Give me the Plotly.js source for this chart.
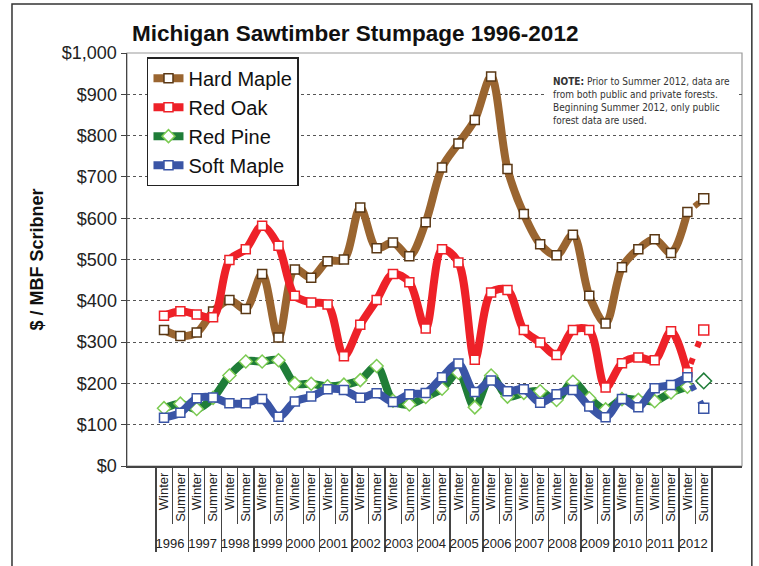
<!DOCTYPE html>
<html>
<head>
<meta charset="utf-8">
<script src="https://cdn.plot.ly/plotly-3.0.1.min.js"></script>
<style>
  html, body { margin: 0; padding: 0; background: #ffffff; }
  #chart { width: 759px; height: 566px; }
</style>
</head>
<body>
<div id="chart"></div>
<script>
// Category labels (outer: year, inner: season)
const yearLabels = ['1996','1996','1997','1997','1998','1998','1999','1999','2000','2000',
  '2001','2001','2002','2002','2003','2003','2004','2004','2005','2005','2006','2006',
  '2007','2007','2008','2008','2009','2009','2010','2010','2011','2011','2012','2012'];
const seasonLabels = ['Winter','Summer','Winter','Summer','Winter','Summer','Winter','Summer',
  'Winter','Summer','Winter','Summer','Winter','Summer','Winter','Summer','Winter','Summer',
  'Winter','Summer','Winter','Summer','Winter','Summer','Winter','Summer','Winter','Summer',
  'Winter','Summer','Winter','Summer','Winter','Summer'];

// Stumpage prices, $ / MBF Scribner (Winter 1996 ... Summer 2012)
const hardMaple = [329,315,323,374,402,380,465,311,476,456,496,500,626,527,541,508,590,723,
  781,838,943,719,610,537,510,560,412,345,481,525,549,516,615,647];
const redOak = [364,375,367,360,499,525,582,533,412,396,391,266,342,402,465,445,333,525,
  493,257,420,426,329,299,269,329,329,190,249,263,256,326,227,329];
const redPine = [140,151,138,165,219,253,253,256,200,199,193,197,208,242,158,149,167,187,
  226,142,219,168,177,181,160,204,164,137,162,160,157,178,192,206];
const softMaple = [117,129,164,166,152,152,162,119,156,168,186,184,165,176,155,174,177,215,
  248,179,207,181,186,153,174,184,144,118,162,142,188,196,215,140];

const seriesNames = ['Hard Maple','Red Oak','Red Pine','Soft Maple'];
const seriesValues = [hardMaple, redOak, redPine, softMaple];
const lineColors = ['#9A6530','#EE2128','#1F7D38','#3A55A6'];
const markerLines = ['#5A3815','#EE2128','#7CCB52','#3A55A6'];
const markerSymbols = ['square','square','diamond','square'];
const showConnector = [true, true, false, true];

const n = yearLabels.length;
const lastIdx = n - 1;
const traces = [];
seriesNames.forEach((name, k) => {
  const vals = seriesValues[k];
  // main smoothed line: Winter 1996 .. Winter 2012
  traces.push({
    type: 'scatter', mode: 'lines+markers', name: name,
    x: [yearLabels.slice(0, lastIdx), seasonLabels.slice(0, lastIdx)],
    y: vals.slice(0, lastIdx),
    line: { color: lineColors[k], width: 8, shape: 'spline', smoothing: 0.9 },
    marker: { symbol: markerSymbols[k], size: markerSymbols[k] === 'diamond' ? 10 : 9,
      color: '#ffffff', line: { color: markerLines[k], width: 1.5 } },
    cliponaxis: false
  });
  // dotted connector Winter 2012 -> Summer 2012
  if (showConnector[k]) {
    traces.push({
      type: 'scatter', mode: 'lines', showlegend: false, hoverinfo: 'skip',
      x: [yearLabels.slice(lastIdx - 1), seasonLabels.slice(lastIdx - 1)],
      y: vals.slice(lastIdx - 1),
      line: { color: lineColors[k], width: 6, dash: '0px,9px,6px,3px' }
    });
  }
  // Summer 2012 (public forests only) point
  traces.push({
    type: 'scatter', mode: 'markers', showlegend: false,
    x: [yearLabels.slice(lastIdx), seasonLabels.slice(lastIdx)],
    y: vals.slice(lastIdx),
    marker: { symbol: markerSymbols[k], size: markerSymbols[k] === 'diamond' ? 12 : 10,
      color: '#ffffff', line: { color: k === 0 ? markerLines[k] : lineColors[k], width: 1.5 } },
    cliponaxis: false
  });
});

const layout = {
  width: 759, height: 566,
  margin: { l: 127, r: 17, t: 53, b: 100 },
  paper_bgcolor: '#ffffff', plot_bgcolor: '#ffffff',
  font: { family: 'Liberation Sans, Arial, sans-serif', color: '#222' },
  title: {
    text: '<b>Michigan Sawtimber Stumpage 1996-2012</b>',
    font: { size: 22.5, color: '#111', family: 'Liberation Sans, Arial, sans-serif' },
    x: 0.468, xanchor: 'center', y: 0.942, yanchor: 'middle'
  },
  xaxis: {
    type: 'multicategory',
    tickangle: -90,
    tickfont: { size: 13, color: '#222' },
    showline: true, linecolor: '#444', linewidth: 1.5,
    ticks: 'outside', ticklen: 56, tickcolor: '#444', tickwidth: 1,
    showdividers: true, dividercolor: '#444', dividerwidth: 1.5,
    showgrid: false, zeroline: false, automargin: false
  },
  yaxis: {
    range: [0, 1000], dtick: 100, tickprefix: '$', tickformat: ',d',
    tickfont: { size: 18, color: '#222' },
    showline: true, linecolor: '#444', linewidth: 1.5,
    ticks: 'outside', ticklen: 5, tickcolor: '#444',
    showgrid: true, gridcolor: '#555', gridwidth: 1, griddash: 'dot',
    zeroline: false, automargin: false,
    title: { text: '<b>$ / MBF Scribner</b>', font: { size: 18, color: '#111' }, standoff: 13 }
  },
  legend: {
    x: 0.0325, y: 0.99, xanchor: 'left', yanchor: 'top',
    bgcolor: '#ffffff', bordercolor: '#222', borderwidth: 1.5,
    font: { size: 20, color: '#111' }
  },
  annotations: [{
    xref: 'paper', yref: 'paper', x: 0.837, y: 0.884, xanchor: 'center', yanchor: 'middle',
    align: 'left', showarrow: false, bgcolor: '#ffffff', borderpad: 8,
    font: { size: 10, color: '#333', family: 'Liberation Sans Narrow, DejaVu Sans Condensed, sans-serif' },
    text: '<b>NOTE:</b> Prior to Summer 2012, data are<br>from both public and private forests.<br>Beginning Summer 2012, only public<br>forest data are used.'
  }],
  shapes: [
    { type: 'rect', xref: 'paper', yref: 'paper', x0: 0, x1: 1, y0: 0, y1: 1,
      line: { color: '#999', width: 1.2 }, layer: 'below' },
    { type: 'rect', xref: 'paper', yref: 'paper', x0: -0.187, x1: 1.016, y0: -0.27, y1: 1.1186,
      line: { color: '#333', width: 1.5 } }
  ]
};

Plotly.newPlot('chart', traces, layout, { displayModeBar: false, staticPlot: true });
</script>
</body>
</html>
